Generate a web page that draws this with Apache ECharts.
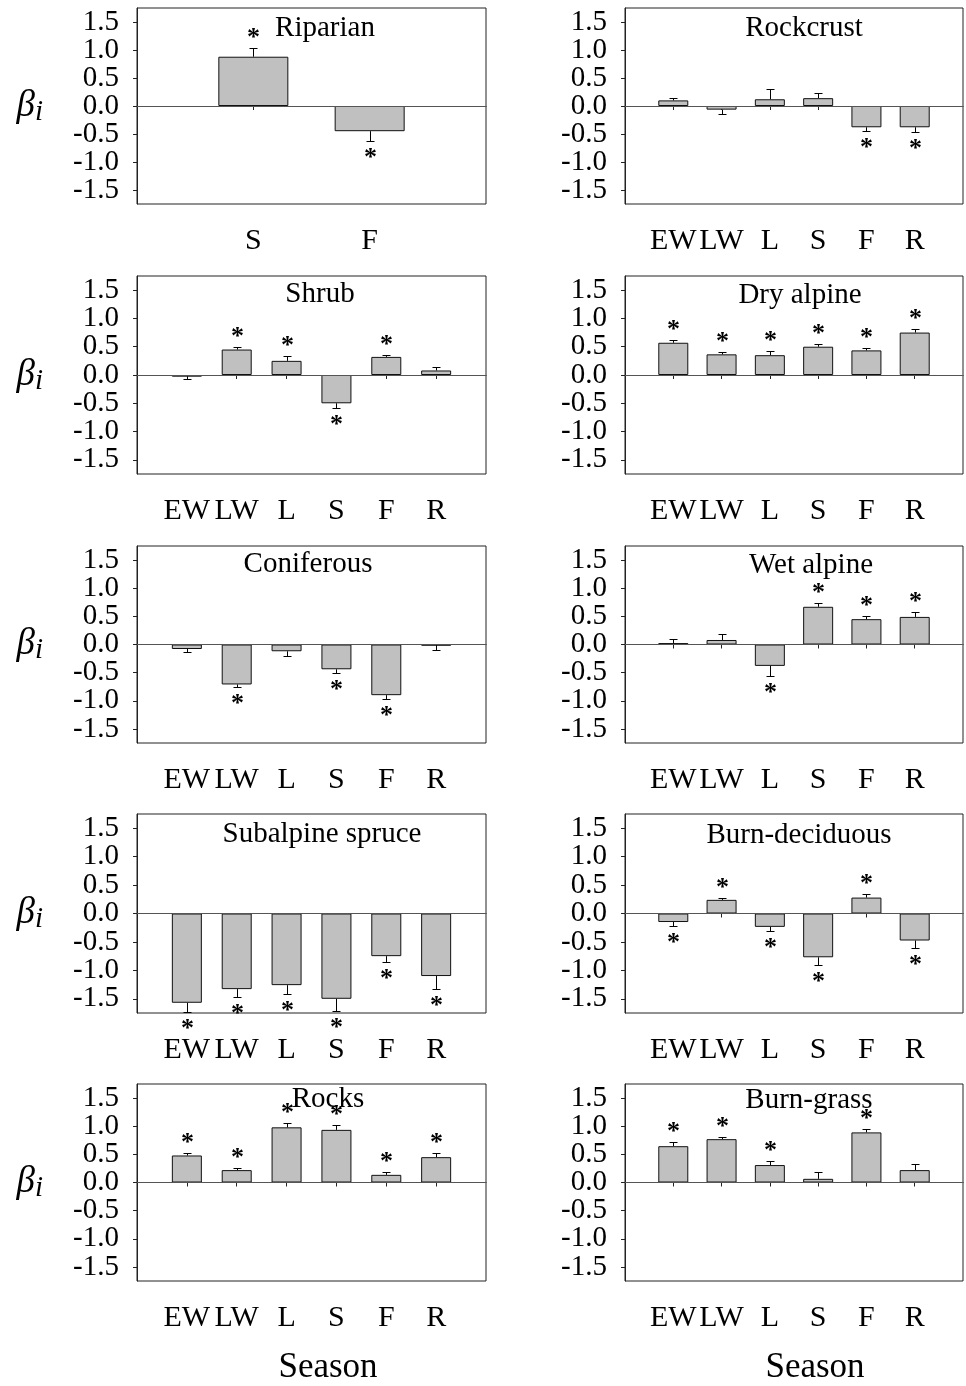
<!DOCTYPE html>
<html><head><meta charset="utf-8">
<script src="https://cdn.jsdelivr.net/npm/echarts@6/dist/echarts.min.js"></script>
<style>html,body{margin:0;padding:0;background:#fff}#c{width:966px;height:1386px}</style>
</head><body><div id="c"></div>
<script>
// ---- categories / ticks ----
const seasons = ['EW', 'LW', 'L', 'S', 'F', 'R'];
const seasonsRiparian = ['S', 'F'];
const yTickValues = [-1.5, -1.0, -0.5, 0.0, 0.5, 1.0, 1.5];
const yMin = -1.75, yMax = 1.75;

// ---- data (mean beta, SE, significance flag) ----
const riparianMean = [0.88, -0.45];
const riparianSE   = [0.16, 0.17];
const riparianSig  = [1, 1];

const rockcrustMean = [0.10, -0.065, 0.12, 0.14, -0.38, -0.38];
const rockcrustSE   = [0.05, 0.075, 0.18, 0.10, 0.07, 0.09];
const rockcrustSig  = [0, 0, 0, 0, 1, 1];

const shrubMean = [-0.03, 0.45, 0.25, -0.50, 0.32, 0.08];
const shrubSE   = [0.04, 0.04, 0.08, 0.08, 0.04, 0.055];
const shrubSig  = [0, 1, 1, 1, 1, 0];

const dryAlpineMean = [0.57, 0.365, 0.35, 0.50, 0.435, 0.75];
const dryAlpineSE   = [0.04, 0.035, 0.07, 0.05, 0.035, 0.06];
const dryAlpineSig  = [1, 1, 1, 1, 1, 1];

const coniferousMean = [-0.08, -0.71, -0.12, -0.44, -0.90, -0.02];
const coniferousSE   = [0.06, 0.05, 0.09, 0.07, 0.06, 0.07];
const coniferousSig  = [0, 1, 0, 1, 1, 0];

const wetAlpineMean = [0.025, 0.08, -0.38, 0.67, 0.45, 0.49];
const wetAlpineSE   = [0.07, 0.10, 0.18, 0.075, 0.05, 0.09];
const wetAlpineSig  = [0, 0, 1, 1, 1, 1];

const subalpineMean = [-1.57, -1.33, -1.26, -1.50, -0.75, -1.10];
const subalpineSE   = [0.17, 0.14, 0.16, 0.21, 0.10, 0.22];
const subalpineSig  = [1, 1, 1, 1, 1, 1];

const burnDecidMean = [-0.15, 0.24, -0.235, -0.77, 0.28, -0.475];
const burnDecidSE   = [0.07, 0.04, 0.075, 0.13, 0.055, 0.125];
const burnDecidSig  = [1, 1, 1, 1, 1, 1];

const rocksMean = [0.48, 0.22, 0.98, 0.935, 0.136, 0.45];
const rocksSE   = [0.04, 0.035, 0.085, 0.085, 0.044, 0.07];
const rocksSig  = [1, 1, 1, 1, 1, 1];

const burnGrassMean = [0.645, 0.77, 0.31, 0.065, 0.89, 0.22];
const burnGrassSE   = [0.07, 0.03, 0.07, 0.115, 0.06, 0.105];
const burnGrassSig  = [1, 1, 1, 0, 1, 0];

const panels = [
  {title: 'Riparian', cats: seasonsRiparian, mean: riparianMean, se: riparianSE, sig: riparianSig},
  {title: 'Rockcrust', cats: seasons, mean: rockcrustMean, se: rockcrustSE, sig: rockcrustSig},
  {title: 'Shrub', cats: seasons, mean: shrubMean, se: shrubSE, sig: shrubSig},
  {title: 'Dry alpine', cats: seasons, mean: dryAlpineMean, se: dryAlpineSE, sig: dryAlpineSig},
  {title: 'Coniferous', cats: seasons, mean: coniferousMean, se: coniferousSE, sig: coniferousSig},
  {title: 'Wet alpine', cats: seasons, mean: wetAlpineMean, se: wetAlpineSE, sig: wetAlpineSig},
  {title: 'Subalpine spruce', cats: seasons, mean: subalpineMean, se: subalpineSE, sig: subalpineSig},
  {title: 'Burn-deciduous', cats: seasons, mean: burnDecidMean, se: burnDecidSE, sig: burnDecidSig},
  {title: 'Rocks', cats: seasons, mean: rocksMean, se: rocksSE, sig: rocksSig},
  {title: 'Burn-grass', cats: seasons, mean: burnGrassMean, se: burnGrassSE, sig: burnGrassSig}
];

// ---- layout ----
const colLeft = [137, 625];
const gridWidth = 349;
const rowTop = [8, 276, 546, 814, 1084];
const rowHeight = [196, 198, 197, 199, 197];
const titleX = [325, 804, 320, 800, 308, 811, 322, 799, 328, 809];
const titleY = [28, 28, 294, 295, 564, 565, 834, 835, 1099, 1100];
const FONT = '"Liberation Serif", "Times New Roman", serif';

// label values padded with empty edge labels so no real label gets dropped by min/max overlap check
const yLabelValues = [yMin].concat(yTickValues, [yMax]);

function renderErr(params, api) {
  const x = api.value(0), m = api.value(1), se = api.value(2), sig = api.value(3);
  const dir = m >= 0 ? 1 : -1;
  const p0 = api.coord([x, m]);
  const p1 = api.coord([x, m + dir * se]);
  const cx = Math.round(p0[0]) + 0.5;
  const y1 = Math.round(p1[1]) + 0.5;
  const children = [
    {type: 'line', shape: {x1: cx, y1: p0[1], x2: cx, y2: y1}, style: {stroke: '#000', lineWidth: 1}},
    {type: 'line', shape: {x1: cx - 4, y1: y1, x2: cx + 4, y2: y1}, style: {stroke: '#000', lineWidth: 1}}
  ];
  if (sig) {
    children.push({type: 'text', x: cx, y: y1 + (dir > 0 ? -15 : 12) + 5,
      style: {text: '*', font: 'bold 26px ' + FONT, align: 'center', verticalAlign: 'middle', fill: '#000'}});
  }
  return {type: 'group', children};
}

const grids = [], xAxes = [], yAxes = [], series = [], graphics = [];
panels.forEach((p, i) => {
  const col = i % 2, row = Math.floor(i / 2);
  grids.push({left: colLeft[col], top: rowTop[row], width: gridWidth, height: rowHeight[row],
    show: true, borderColor: '#222', borderWidth: 1, containLabel: false});
  const axisCats = [''].concat(p.cats, ['']);
  const n = axisCats.length;
  xAxes.push({type: 'category', gridIndex: i, data: axisCats, boundaryGap: false,
    axisLine: {show: true, lineStyle: {color: '#222'}},
    axisTick: {show: true, inside: false, length: 4, interval: (idx) => idx > 0 && idx < n - 1, lineStyle: {color: '#222'}},
    axisLabel: {interval: 0, margin: 22, fontFamily: FONT, fontSize: 30, color: '#000'},
    splitLine: {show: false}});
  yAxes.push({type: 'value', gridIndex: i, min: yMin, max: yMax,
    axisLine: {show: true, lineStyle: {color: '#222'}},
    axisTick: {show: true, inside: false, length: 4, customValues: yTickValues, lineStyle: {color: '#222'}},
    axisLabel: {customValues: yLabelValues, showMinLabel: false, showMaxLabel: false, hideOverlap: false,
      margin: 18, fontFamily: FONT, fontSize: 29, color: '#000',
      formatter: (v) => (Math.abs(v) > 1.6 ? '' : v.toFixed(1))},
    splitLine: {show: false},
    name: col === 0 ? '{b|β}{s|i}' : '',
    nameLocation: 'middle', nameRotate: 0, nameGap: 94,
    nameTextStyle: {align: 'right', rich: {
      b: {fontFamily: FONT, fontStyle: 'italic', fontSize: 37, color: '#000'},
      s: {fontFamily: FONT, fontStyle: 'italic', fontSize: 29, color: '#000', padding: [12, 0, 0, 0]}
    }}});
  series.push({type: 'bar', xAxisIndex: i, yAxisIndex: i,
    data: [null].concat(p.mean, [null]),
    barWidth: p.cats.length === 2 ? 70 : 30,
    itemStyle: {color: '#c0c0c0', borderColor: '#111', borderWidth: 1},
    markLine: {silent: true, symbol: 'none', label: {show: false},
      lineStyle: {color: '#555', width: 1, type: 'solid'}, data: [{yAxis: 0}]},
    z: 2});
  series.push({type: 'custom', xAxisIndex: i, yAxisIndex: i, clip: false, z: 3,
    encode: {x: 0, y: 1},
    data: p.mean.map((m, k) => [k + 1, m, p.se[k], p.sig[k]]),
    renderItem: renderErr});
  graphics.push({type: 'text', x: titleX[i], y: titleY[i],
    style: {text: p.title, font: '29px ' + FONT, align: 'center', verticalAlign: 'middle', fill: '#000'}});
});
graphics.push({type: 'text', x: 328, y: 1368, style: {text: 'Season', font: '35px ' + FONT, align: 'center', verticalAlign: 'middle', fill: '#000'}});
graphics.push({type: 'text', x: 815, y: 1368, style: {text: 'Season', font: '35px ' + FONT, align: 'center', verticalAlign: 'middle', fill: '#000'}});

const chart = echarts.init(document.getElementById('c'), null, {renderer: 'canvas'});
chart.setOption({
  animation: false,
  backgroundColor: '#fff',
  grid: grids, xAxis: xAxes, yAxis: yAxes, series: series, graphic: graphics
});
</script></body></html>
